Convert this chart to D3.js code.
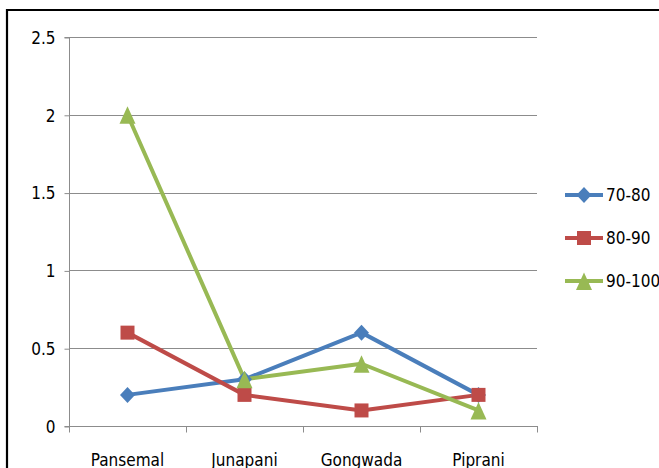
<!DOCTYPE html>
<html>
<head>
<meta charset="utf-8">
<script src="https://d3js.org/d3.v7.min.js"></script>
<style>
  html, body { margin: 0; padding: 0; background: #fff; }
  svg text { font-family: "Liberation Sans Narrow", "DejaVu Sans Condensed", "Open Sans", sans-serif; fill: #000; }
</style>
</head>
<body>
<div id="chart"></div>
<script>
const categories = ["Pansemal", "Junapani", "Gongwada", "Piprani"];
const seriesNames = ["70-80", "80-90", "90-100"];
const values7080 = [0.2, 0.3, 0.6, 0.2];
const values8090 = [0.6, 0.2, 0.1, 0.2];
const values90100 = [2.0, 0.3, 0.4, 0.1];
const yTicks = [0, 0.5, 1, 1.5, 2, 2.5];
const yTickLabels = ["0", "0.5", "1", "1.5", "2", "2.5"];

const colors = ["#4a7ebb", "#be4b48", "#98b954"];

// marker shapes: wide diamond, square, tall triangle (drawn around 0,0)
const markerPaths = [
  "M0,-8L7.5,0L0,8L-7.5,0Z",
  "M-7,-7H7V7H-7Z",
  "M0,-8.5L8,9H-8Z"
];

const series = [values7080, values8090, values90100].map((v, i) => ({
  name: seriesNames[i], values: v, color: colors[i], marker: markerPaths[i]
}));

const W = 659, H = 468;
const plot = { left: 69, right: 537, top: 37, bottom: 426 };

const svg = d3.select("#chart").append("svg")
  .attr("width", W).attr("height", H);

// outer frame (left and top edges visible)
svg.append("path")
  .attr("d", `M7,${H + 2} V10 H${W + 2}`)
  .attr("fill", "none").attr("stroke", "#000").attr("stroke-width", 2.2);

const x = d3.scaleBand().domain(categories).range([plot.left, plot.right]);
const y = d3.scaleLinear().domain([0, 2.5]).range([plot.bottom, plot.top]);

// horizontal gridlines
svg.append("g").selectAll("line").data(yTicks.filter(t => t > 0)).join("line")
  .attr("x1", plot.left).attr("x2", plot.right)
  .attr("y1", d => Math.round(y(d)) + 0.5).attr("y2", d => Math.round(y(d)) + 0.5)
  .attr("stroke", "#8c8c8c").attr("stroke-width", 1);

// y axis
const yAxis = d3.axisLeft(y).tickValues(yTicks)
  .tickFormat((d, i) => yTickLabels[i]).tickSize(5).tickPadding(9);
const gy = svg.append("g").attr("transform", `translate(${plot.left + 0.5},0.5)`).call(yAxis);
gy.selectAll("line, path").attr("stroke", "#8c8c8c");
gy.select(".domain").attr("d", `M-5,${plot.bottom}H0V${plot.top}H-5`);
gy.selectAll("text").attr("font-size", 17).attr("dy", "0.34em")
  .style("font-family", '"Liberation Sans Narrow", "DejaVu Sans Condensed", sans-serif');

// x axis with ticks on category boundaries
const gx = svg.append("g").attr("transform", `translate(0,${plot.bottom + 0.5})`);
gx.append("line").attr("x1", plot.left).attr("x2", plot.right + 1)
  .attr("stroke", "#8c8c8c");
const boundaries = categories.map(c => x(c)).concat([x(categories[categories.length - 1]) + x.bandwidth()]);
gx.selectAll("line.tick").data(boundaries).join("line").attr("class", "tick")
  .attr("x1", d => Math.round(d) + 0.5).attr("x2", d => Math.round(d) + 0.5)
  .attr("y1", 0).attr("y2", 6).attr("stroke", "#8c8c8c");
gx.selectAll("text").data(categories).join("text")
  .attr("x", d => x(d) + x.bandwidth() / 2)
  .attr("y", 39)
  .attr("text-anchor", "middle")
  .attr("font-size", 17)
  .text(d => d);

// series lines and markers
const line = d3.line()
  .x((d, i) => x(categories[i]) + x.bandwidth() / 2)
  .y(d => y(d));

series.forEach(s => {
  svg.append("path").datum(s.values)
    .attr("d", line)
    .attr("fill", "none")
    .attr("stroke", s.color)
    .attr("stroke-width", 4)
    .attr("stroke-linejoin", "round");
});
series.forEach(s => {
  svg.append("g").selectAll("path").data(s.values).join("path")
    .attr("transform", (d, i) => `translate(${x(categories[i]) + x.bandwidth() / 2},${y(d)})`)
    .attr("d", s.marker)
    .attr("fill", s.color);
});

// legend
const legend = svg.append("g");
const legendY = [195, 238, 281];
series.forEach((s, i) => {
  const g = legend.append("g").attr("transform", `translate(565,${legendY[i]})`);
  g.append("line").attr("x1", 0).attr("x2", 38).attr("y1", 0).attr("y2", 0)
    .attr("stroke", s.color).attr("stroke-width", 4);
  g.append("path").attr("transform", "translate(19,0)")
    .attr("d", s.marker)
    .attr("fill", s.color);
  g.append("text").attr("x", 41).attr("y", 0).attr("dy", "0.35em")
    .attr("font-size", 17).text(s.name);
});
</script>
</body>
</html>
